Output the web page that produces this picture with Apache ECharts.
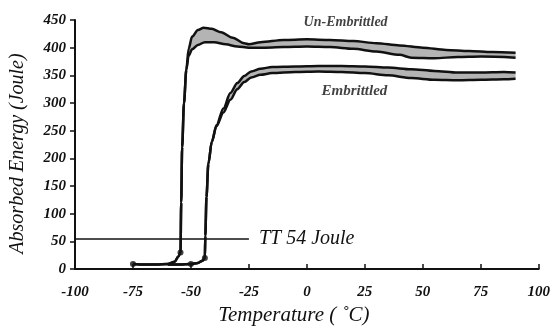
<!DOCTYPE html>
<html><head><meta charset="utf-8">
<script src="https://cdn.jsdelivr.net/npm/echarts@6/dist/echarts.min.js"></script>
<style>html,body{margin:0;padding:0;background:#fff}#c{width:553px;height:331px}</style>
</head><body><div id="c"></div>
<script>
const xTicks = [-100, -75, -50, -25, 0, 25, 50, 75, 100];
const yTicks = [0, 50, 100, 150, 200, 250, 300, 350, 400, 450];

const unEmbUpper = [[-75,9],[-70,8],[-65,8],[-60,9],[-57,13],[-55.5,22],[-54.5,30],[-54.2,120],[-53.8,220],[-53,300],[-52,360],[-51,398],[-49.5,420],[-47,432],[-44.5,436],[-41,434],[-37,428],[-32,418],[-27,408],[-25,406],[-20,410],[-10,414],[0,415],[10,414],[20,412],[30,408],[40,404],[50,400],[60,396],[70,394],[80,392],[90,391]];
const unEmbLower = [[-75,9],[-70,8],[-65,8],[-60,9],[-57,13],[-55.5,22],[-54.5,30],[-54.2,120],[-53.8,220],[-53,300],[-52,360],[-51,385],[-49.5,397],[-47,405],[-44,410],[-40,410],[-35,406],[-30,402],[-25,400],[-20,400],[-10,401],[0,402],[10,401],[20,398],[30,393],[40,387],[45,382],[55,381],[65,383],[75,384],[90,382]];

const embUpper = [[-60,8],[-55,8],[-50,9],[-47,11],[-45,15],[-44,20],[-43.8,60],[-43.3,130],[-42.5,190],[-41,230],[-39,260],[-36,290],[-33,318],[-30,336],[-27,349],[-24,357],[-20,362],[-15,365],[-5,366],[5,367],[15,367],[25,366],[35,364],[45,361],[55,358],[65,355],[75,355],[85,356],[90,355]];
const embLower = [[-60,8],[-55,8],[-50,9],[-47,11],[-45,15],[-44,20],[-43.8,60],[-43.3,130],[-42.5,190],[-41,230],[-39,258],[-36,283],[-33,306],[-30,325],[-27,338],[-24,346],[-20,351],[-15,354],[-5,356],[5,357],[15,356],[25,354],[35,350],[45,345],[55,342],[65,341],[75,342],[85,343],[90,344]];

const unEmbMarkers = [[-75,9],[-54.5,30]];
const embMarkers = [[-50,9],[-44,20]];
const ttLine = [[-100,54],[-25,54]];
const annotationNames = ['Un-Embrittled', 'Embrittled'];
const annotationPos = [[16.7,446],[20.5,322]];
const annotationSizes = [14, 15];

const serif = 'Liberation Serif';
function band(upper, lower){
  const poly = upper.concat(lower.slice().reverse());
  return {type:'custom', coordinateSystem:'cartesian2d', data:[[0,0]], silent:true, z:1,
    renderItem:(p, api)=>({type:'polygon', shape:{points: poly.map(q=>api.coord(q))},
      style:{fill:'#b4b4b4', stroke:null}})};
}
function line(d, w){
  return {type:'line', data:d, showSymbol:false, smooth:0.3, smoothMonotone:'x', silent:true, z:3,
    lineStyle:{color:'#111', width:w}};
}
const chart = echarts.init(document.getElementById('c'));
chart.setOption({
  animation:false,
  grid:{left:74, right:11, top:20, bottom:58},
  xAxis:{type:'value', min:xTicks[0], max:xTicks[xTicks.length-1], interval:25,
    name:'Temperature ( \u02DAC)', nameLocation:'middle', nameGap:36,
    nameTextStyle:{fontFamily:serif, fontStyle:'italic', fontSize:21, color:'#111', padding:[0,26,0,0]},
    axisLine:{show:true, onZero:false, lineStyle:{color:'#111', width:2}},
    axisTick:{show:true, inside:true, length:5, lineStyle:{color:'#111', width:1.5}},
    axisLabel:{fontFamily:serif, fontStyle:'italic', fontWeight:'bold', fontSize:15, color:'#111', margin:16},
    splitLine:{show:false}},
  yAxis:{type:'value', min:yTicks[0], max:yTicks[yTicks.length-1], interval:50,
    name:'Absorbed Energy (Joule)', nameLocation:'middle', nameGap:47,
    nameTextStyle:{fontFamily:serif, fontStyle:'italic', fontSize:20, color:'#111', padding:[0,18,0,0]},
    axisLine:{show:true, onZero:false, lineStyle:{color:'#111', width:2}},
    axisTick:{show:true, length:5, lineStyle:{color:'#111', width:1.5}},
    axisLabel:{fontFamily:serif, fontStyle:'italic', fontWeight:'bold', fontSize:15, color:'#111', margin:9},
    splitLine:{show:false}},
  series:[
    band(unEmbUpper, unEmbLower),
    band(embUpper, embLower),
    line(unEmbUpper, 2.5), line(unEmbLower, 2.5),
    line(embUpper, 2.5), line(embLower, 2.5),
    {type:'scatter', data:unEmbMarkers.concat(embMarkers), symbolSize:6, itemStyle:{color:'#111'}, z:4, silent:true},
    {type:'line', data:ttLine, showSymbol:false, silent:true, z:3,
      lineStyle:{color:'#111', width:1.5},
      endLabel:{show:true, formatter:'TT 54 Joule', distance:10, fontFamily:serif, fontStyle:'italic', fontSize:20, color:'#111'}},
    {type:'scatter', symbolSize:0, silent:true, z:5,
      data: annotationNames.map((n,i)=>({name:n, value:annotationPos[i], label:{fontSize:annotationSizes[i]}})),
      label:{show:true, position:'inside', formatter:'{b}', fontFamily:serif, fontStyle:'italic', fontWeight:'bold', color:'#111'}}
  ]
});
</script></body></html>
